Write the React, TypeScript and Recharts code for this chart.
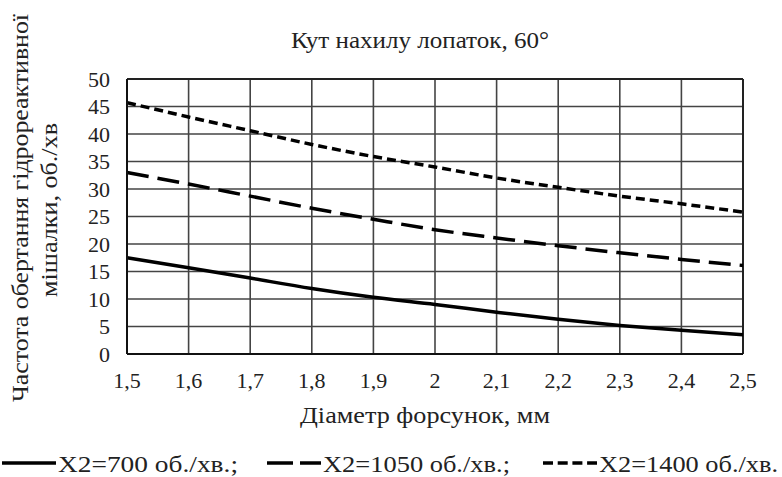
import React from 'react';
import { LineChart, Line, XAxis, YAxis, CartesianGrid } from 'recharts';

// Діаметр форсунок, мм
const diameters = [1.5, 1.6, 1.7, 1.8, 1.9, 2.0, 2.1, 2.2, 2.3, 2.4, 2.5];
// Частота обертання, об./хв
const rpm700 = [17.5, 15.7, 13.8, 11.9, 10.3, 9.0, 7.6, 6.3, 5.2, 4.3, 3.5];
const rpm1050 = [33.0, 30.9, 28.7, 26.5, 24.5, 22.6, 21.1, 19.7, 18.4, 17.2, 16.1];
const rpm1400 = [45.7, 43.1, 40.6, 38.1, 35.9, 34.0, 32.0, 30.3, 28.7, 27.3, 25.8];

const yTicks = [0, 5, 10, 15, 20, 25, 30, 35, 40, 45, 50];

const seriesNames = ['X2=700 об./хв.;', 'X2=1050 об./хв.;', 'X2=1400 об./хв.'];
const seriesKeys = ['s700', 's1050', 's1400'];
const seriesDash = ['0', '22 9', '9 5'];
const legendDash = ['0', '26 7', '10 4.7'];

const data = diameters.map((d, i) => ({
  d,
  s700: rpm700[i],
  s1050: rpm1050[i],
  s1400: rpm1400[i],
}));

const FONT = 'Liberation Serif, Tinos, DejaVu Serif, Noto Serif, serif';
const formatX = (v: number) => String(v).replace('.', ',');

// legend: left of line sample, text width
const legendLeft = [2, 267, 543];
const legendTextW = [180, 187, 179];

const txt = { fill: '#222', fontSize: 23, style: { fontFamily: FONT } };

export default function App() {
  return (
    <div style={{ position: 'absolute', left: 0, top: 0, width: 782, height: 477, background: '#fff' }}>
      <LineChart
        width={782}
        height={477}
        data={data}
        margin={{ top: 79, right: 39, left: 87, bottom: 93 }}
        style={{ fontFamily: FONT }}
      >
        <CartesianGrid stroke="#444" strokeWidth={1.6} ticks={yTicks} />
        <XAxis
          dataKey="d"
          type="number"
          domain={[1.5, 2.5]}
          ticks={diameters}
          tickFormatter={formatX}
          height={30}
          tickLine={false}
          tickSize={0}
          tickMargin={18}
          axisLine={{ stroke: '#111', strokeWidth: 2 }}
          tick={{ fill: '#222', fontSize: 22, fontFamily: FONT }}
          interval={0}
        />
        <YAxis
          type="number"
          domain={[0, 50]}
          ticks={yTicks}
          width={40}
          tickLine={false}
          tickSize={0}
          tickMargin={17}
          axisLine={{ stroke: '#111', strokeWidth: 2 }}
          tick={{ fill: '#222', fontSize: 22, fontFamily: FONT }}
          interval={0}
        />
        {/* top & right border of plot */}
        <line x1={127} y1={79} x2={743} y2={79} stroke="#222" strokeWidth={2} />
        <line x1={743} y1={79} x2={743} y2={354} stroke="#222" strokeWidth={2} />
        {seriesKeys.map((k, i) => (
          <Line
            key={k}
            type="monotone"
            dataKey={k}
            stroke="#000"
            strokeWidth={3.5}
            strokeDasharray={seriesDash[i]}
            dot={false}
            isAnimationActive={false}
          />
        ))}
        <text x={420} y={48} textAnchor="middle" textLength={258} lengthAdjust="spacingAndGlyphs" {...txt}>
          Кут нахилу лопаток, 60°
        </text>
        <text x={425} y={423} textAnchor="middle" textLength={250} lengthAdjust="spacingAndGlyphs" {...txt}>
          Діаметр форсунок, мм
        </text>
        <text transform="translate(28,208) rotate(-90)" textAnchor="middle" textLength={388} lengthAdjust="spacingAndGlyphs" {...txt}>
          Частота обертання гідрореактивної
        </text>
        <text transform="translate(57,210) rotate(-90)" textAnchor="middle" textLength={174} lengthAdjust="spacingAndGlyphs" {...txt}>
          мішалки, об./хв
        </text>
        {seriesNames.map((name, i) => (
          <g key={name}>
            <line
              x1={legendLeft[i]}
              y1={463}
              x2={legendLeft[i] + 54}
              y2={463}
              stroke="#000"
              strokeWidth={3.5}
              strokeDasharray={legendDash[i]}
            />
            <text x={legendLeft[i] + 56} y={472} textLength={legendTextW[i]} lengthAdjust="spacingAndGlyphs" {...txt}>
              {name}
            </text>
          </g>
        ))}
      </LineChart>
    </div>
  );
}
